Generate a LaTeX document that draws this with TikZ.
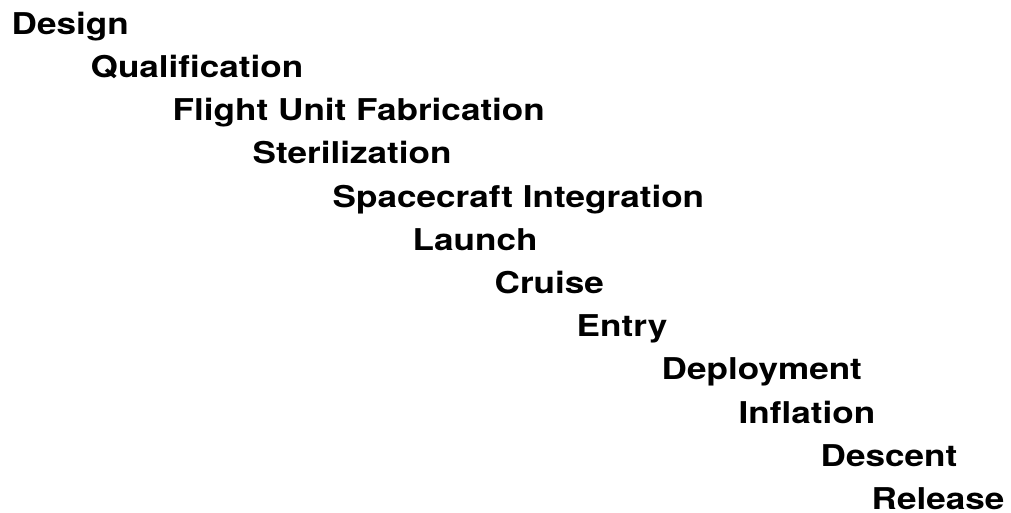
\documentclass[tikz,border=0pt]{standalone}
\usepackage{fontspec}
\usetikzlibrary{positioning}
\newfontfamily\stagefont{TeX Gyre Heros}[FakeStretch=1.17]

\tikzset{
  stage/.style={font=\stagefont\bfseries\fontsize{30}{36}\selectfont,
    inner sep=0pt, anchor=base west}
}

\begin{document}
\begin{tikzpicture}[x=1pt, y=-1pt]
  \useasboundingbox (0,0) rectangle (1011,512);
  % one stage per line, each a step down and right of the last
  \node[stage] (design) at (11.5,34.3) {Design};
  \node[stage, at={([shift={(79,43.2)}]design.base west)}] (qual) {Qualification};
  \node[stage, at={([shift={(82,43.2)}]qual.base west)}] (flight) {Flight Unit Fabrication};
  \node[stage, at={([shift={(80,43.2)}]flight.base west)}] (steril) {Sterilization};
  \node[stage, at={([shift={(80,43.2)}]steril.base west)}] (integ) {Spacecraft Integration};
  \node[stage, at={([shift={(80,43.2)}]integ.base west)}] (launch) {Launch};
  \node[stage, at={([shift={(82,43.2)}]launch.base west)}] (cruise) {Cruise};
  \node[stage, at={([shift={(82,43.2)}]cruise.base west)}] (entry) {Entry};
  \node[stage, at={([shift={(85,43.2)}]entry.base west)}] (deploy) {Deployment};
  \node[stage, at={([shift={(77,43.2)}]deploy.base west)}] (inflate) {Inflation};
  \node[stage, at={([shift={(82,43.2)}]inflate.base west)}] (descent) {Descent};
  \node[stage, at={([shift={(51,43.2)}]descent.base west)}] (release) {Release};
\end{tikzpicture}
\end{document}
